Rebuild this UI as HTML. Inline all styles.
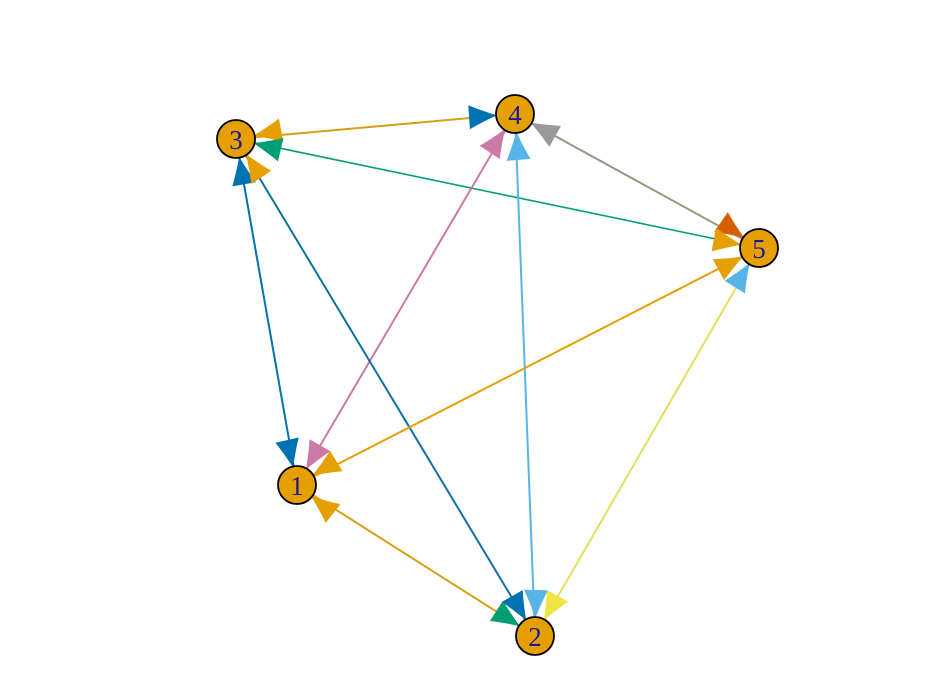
<!DOCTYPE html>
<html><head><meta charset="utf-8"><style>html,body{margin:0;padding:0;background:#fff}svg{display:block}</style></head>
<body>
<svg id="s" width="944" height="685" xmlns="http://www.w3.org/2000/svg">
<g stroke-width="2" fill="none">
<line x1="236" y1="139" x2="515" y2="114" stroke="#D4A017"/>
<line x1="236" y1="139" x2="759" y2="248" stroke="#009E73" stroke-width="1.6"/>
<line x1="515" y1="114" x2="759" y2="248" stroke="#A09482"/>
<line x1="297" y1="485" x2="515" y2="114" stroke="#CC79A7"/>
<line x1="535" y1="636" x2="515" y2="114" stroke="#56B4E9"/>
<line x1="297" y1="485" x2="236" y2="139" stroke="#0072B2"/>
<line x1="236" y1="139" x2="535" y2="636" stroke="#1070A0"/>
<line x1="297" y1="485" x2="759" y2="248" stroke="#E69F00"/>
<line x1="297" y1="485" x2="535" y2="636" stroke="#D4A017"/>
<line x1="535" y1="636" x2="759" y2="248" stroke="#E0E060"/>
</g>
<g id="arrows"></g>
<g stroke="#000" stroke-width="1.8" fill="#E69F00">
<circle cx="297" cy="485" r="19"/><circle cx="535" cy="636" r="19"/><circle cx="236" cy="139" r="19"/><circle cx="515" cy="114" r="19"/><circle cx="759" cy="248" r="19"/>
</g>
<g font-family="Liberation Serif, serif" font-size="27" fill="#1a1a8c" text-anchor="middle">
<text x="297" y="495">1</text><text x="535" y="646">2</text><text x="236" y="149">3</text><text x="515" y="124">4</text><text x="759" y="258">5</text>
</g>
</svg>
<script>
var N={1:[297,485],2:[535,636],3:[236,139],4:[515,114],5:[759,248]};
var A=[[1,287,440,"#0072B2"],[1,323,440,"#CC79A7"],[1,338,460,"#E69F00"],[1,335,515,"#E69F00"],
[2,492,608,"#009E73"],[2,510,592,"#0072B2"],[2,536,588,"#56B4E9"],[2,558,595,"#F0E442"],
[3,278,131,"#E69F00"],[3,282,150,"#009E73"],[3,243,178,"#0072B2"],[3,263,180,"#E69F00"],
[4,472,117,"#0072B2"],[4,490,152,"#CC79A7"],[4,518,153,"#56B4E9"],[4,558,138,"#999999"],
[5,718,220,"#D55E00"],[5,716,240,"#E69F00"],[5,718,270,"#E69F00"],[5,733,290,"#56B4E9"]];
var g=document.getElementById("arrows"),h="";
A.forEach(function(a){var c=N[a[0]],dx=a[1]-c[0],dy=a[2]-c[1],L=Math.hypot(dx,dy),ux=dx/L,uy=dy/L,px=-uy,py=ux;
function P(d,w){return (c[0]+ux*d+px*w).toFixed(1)+","+(c[1]+uy*d+py*w).toFixed(1);}
h+='<path d="M'+P(18,0)+' Q'+P(34,6)+' '+P(46,12)+' L'+P(46,-12)+' Q'+P(34,-6)+' '+P(18,0)+'Z" fill="'+a[3]+'"/>';});
g.innerHTML=h;
</script>
</body></html>
